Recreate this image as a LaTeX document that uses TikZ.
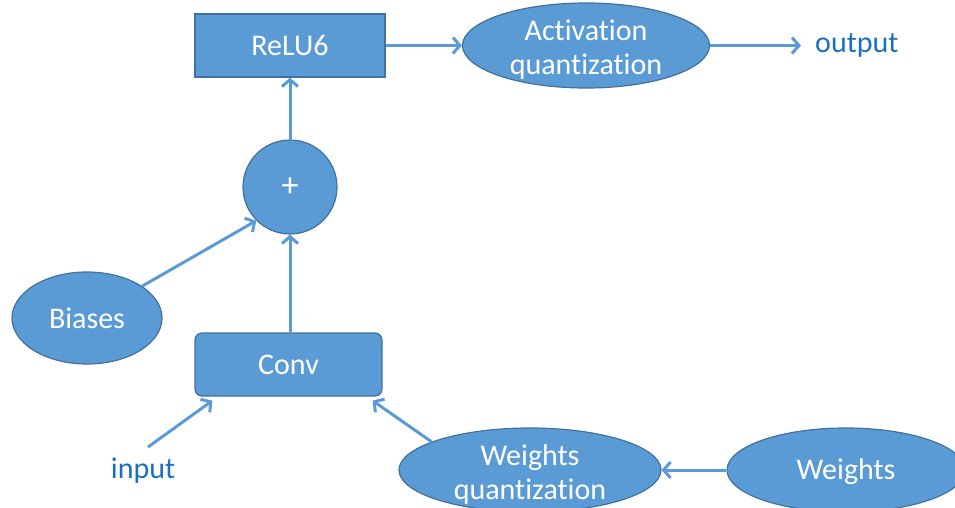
\documentclass[tikz,border=0pt]{standalone}
\usepackage{fontspec}
\setmainfont{Carlito}[Ligatures={NoCommon}]
\usetikzlibrary{shapes.geometric,arrows.meta}

\definecolor{boxfill}{HTML}{5B9BD5}
\definecolor{boxline}{HTML}{41719C}
\definecolor{labelblue}{HTML}{1A6FC0}

\tikzset{
  blockbox/.style={rectangle, fill=boxfill, draw=boxline, line width=1.2pt,
    text=white, inner sep=0pt, font=\fontsize{30}{35}\selectfont},
  blob/.style={ellipse, fill=boxfill, draw=boxline, line width=1.2pt,
    text=white, inner sep=0pt, align=center, font=\fontsize{30}{35}\selectfont},
  blobtext/.style={text=white, inner sep=0pt, align=center,
    font=\fontsize{30}{34}\selectfont},
  plainlabel/.style={text=labelblue, inner sep=0pt, font=\fontsize{30}{35}\selectfont},
  flow/.style={draw=boxfill, line width=3pt,
    -{Straight Barb[length=7pt,width=16pt,line width=3pt]}},
}

\begin{document}
\begin{tikzpicture}[x=1pt,y=-1pt]
  \useasboundingbox (0,0) rectangle (955,508);

  % upper row
  \node[blockbox, minimum width=190pt, minimum height=63pt] (relu) at (290,45.5) {ReLU6};
  \node[blob, minimum width=247pt, minimum height=85pt] (act) at (586,45.5) {};
  \node[blobtext] (acttext) at ([yshift=-4pt]act.center) {Activation\\quantization};
  \node[plainlabel, anchor=west] (out) at (815,45.5) {output};

  % adder
  \node[circle, fill=boxfill, draw=boxline, line width=1.2pt, text=white,
        minimum size=94pt, inner sep=0pt, font=\fontsize{34}{38}\selectfont] (plus) at (290,187) {+};

  % inputs to the adder
  \node[blob, minimum width=150pt, minimum height=92pt] (bias) at (87,318) {Biases};
  \node[blockbox, rounded corners=7pt, minimum width=187pt, minimum height=63pt] (conv) at (288.5,364.5) {Conv};

  % lower row
  \node[plainlabel] (in) at (143,471) {input};
  \node[blob, minimum width=262pt, minimum height=84pt] (wq) at (530,470) {};
  \node[blobtext] (wqtext) at ([yshift=-4pt]wq.center) {Weights\\quantization};
  \node[blob, minimum width=238pt, minimum height=84pt] (w) at (846,470) {};
  \node[blobtext] (wtext) at ([yshift=-2pt]w.center) {Weights};

  % connectors
  \draw[flow] (relu.east) -- (act.west);
  \draw[flow] (act.east) -- ([xshift=-14pt]out.west);
  \draw[flow] (plus.north) -- (relu.south);
  \draw[flow] (conv.north -| plus.south) -- (plus.south);
  \draw[flow] (bias.30) -- (plus.225);
  \draw[flow] ([xshift=5pt,yshift=11pt]in.north) -- ([xshift=18pt,yshift=-4pt]conv.south west);
  \draw[flow] (wq.164) -- ([xshift=-10pt,yshift=-4pt]conv.south east);
  \draw[flow] (w.west) -- (wq.east);
\end{tikzpicture}
\end{document}
